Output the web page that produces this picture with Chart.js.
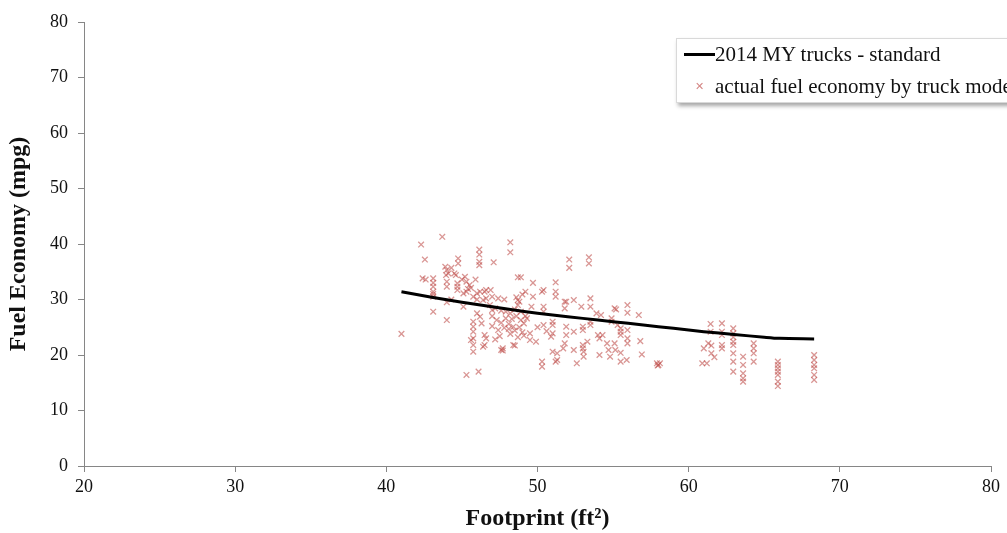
<!DOCTYPE html>
<html lang="en">
<head>
    <meta charset="UTF-8">
    <title>Fuel Economy vs Footprint</title>
    <style>
        body {
            margin: 0;
            padding: 0;
            background: #fff;
            font-family: 'Liberation Serif', 'DejaVu Serif', serif;
        }

        #wrap {
            position: relative;
            width: 1007px;
            height: 533px;
            overflow: hidden;
        }

        /* Legend box, clipped at the right edge like the original */
        #legend {
            position: absolute;
            left: 676px;
            top: 38px;
            width: 360px;
            height: 63px;
            background: #fff;
            border: 1px solid #d9d9d9;
            box-shadow: 2px 3px 4px rgba(0, 0, 0, 0.35);
            font-size: 21px;
            color: #111;
            white-space: nowrap;
        }

        #legend .row {
            position: absolute;
            left: 0;
            height: 28px;
            line-height: 28px;
        }

        #legend .swatch-line {
            position: absolute;
            left: 7px;
            top: 13px;
            width: 31px;
            height: 3px;
            background: #000;
        }

        #legend .swatch-x {
            position: absolute;
            left: 18px;
            top: 0;
            font-size: 11px;
            color: rgba(192, 80, 77, 0.7);
        }

        #legend .label {
            position: absolute;
            left: 38px;
        }
    </style>
</head>
<body>
    <div id="wrap">
        <canvas id="chart" width="1007" height="533"></canvas>
        <div id="legend">
            <div class="row" style="top:1px"><span class="swatch-line"></span><span class="label">2014 MY trucks - standard</span></div>
            <div class="row" style="top:33px"><span class="swatch-x">&#x2715;</span><span class="label">actual fuel economy by truck model</span></div>
        </div>
    </div>

    <script src="https://cdn.jsdelivr.net/npm/chart.js"></script>
    <script>
        // axis ranges / ticks
        const xTicks = [20, 30, 40, 50, 60, 70, 80];
        const yTicks = [0, 10, 20, 30, 40, 50, 60, 70, 80];

        // 2014 MY truck standard curve (footprint ft2, mpg)
        const standardFootprint = [41, 43, 45, 47, 49, 51, 53, 55, 57, 59, 61, 63, 65, 66, 68.3];
        const standardMpg = [31.4, 30.4, 29.5, 28.7, 27.9, 27.2, 26.6, 26.0, 25.4, 24.8, 24.2, 23.7, 23.2, 23.0, 22.9];

        // actual fuel economy by truck model: [footprint, mpg]
        const truckModels = [
            [41.0, 23.8],
            [42.3, 39.9], [42.55, 37.2], [42.4, 33.8], [42.6, 33.6],
            [43.1, 33.8], [43.1, 33.0], [43.1, 32.3], [43.1, 31.4], [43.1, 30.5], [43.1, 27.8], [43.1, 31.0],
            [43.7, 41.3],
            [43.9, 35.9], [44.0, 35.3], [44.1, 34.7], [43.95, 34.4], [44.0, 33.2], [44.0, 32.3], [44.0, 29.5], [44.0, 26.3],
            [44.5, 34.7], [44.6, 34.4], [44.3, 35.7], [44.75, 37.4], [44.75, 36.5], [44.7, 32.9], [44.7, 32.3], [44.7, 31.7], [44.3, 30.0],
            [45.2, 34.1], [45.3, 33.2], [45.5, 32.6], [45.6, 32.1], [45.4, 31.9], [45.1, 31.1], [45.3, 31.4], [45.1, 28.7], [45.3, 16.4], [45.0, 33.6],
            [46.15, 39.0], [46.15, 38.1], [46.15, 36.8], [46.15, 36.2], [45.9, 33.6], [46.0, 31.1], [46.2, 31.4], [46.5, 31.4], [46.9, 31.7],
            [45.75, 30.5], [46.0, 30.0], [46.4, 29.9], [46.6, 30.2], [46.0, 27.5], [46.2, 26.9], [45.75, 26.0], [46.3, 25.7], [45.75, 25.1],
            [45.75, 24.2], [46.5, 23.6], [46.6, 23.0], [45.75, 23.0], [45.75, 21.8], [45.75, 20.6], [46.4, 21.5], [46.85, 29.0], [47.0, 28.1],
            [46.1, 17.0], [45.6, 22.7], [46.5, 21.8], [47.1, 36.7], [46.6, 31.7], [47.0, 30.5],
            [47.4, 30.2], [47.8, 30.0], [47.2, 28.4], [47.6, 28.0], [47.9, 27.8], [48.2, 27.5], [48.5, 28.2], [48.2, 40.3], [48.2, 38.5],
            [48.7, 34.0], [48.9, 34.0], [49.7, 33.0], [49.2, 31.4], [48.6, 30.4], [48.8, 29.6], [49.0, 30.9], [49.7, 30.5], [49.6, 28.7],
            [48.7, 29.0], [48.7, 29.9],
            [47.0, 27.0], [47.3, 26.3], [47.6, 25.8], [47.0, 25.2], [47.4, 24.5], [47.8, 24.9], [48.1, 25.6], [48.3, 26.5], [48.6, 27.0],
            [48.9, 26.3], [49.1, 25.7], [48.8, 25.0], [48.5, 24.4], [48.2, 23.8], [48.7, 23.2], [49.0, 24.1], [49.2, 27.0], [48.9, 27.8],
            [48.4, 25.1], [47.9, 26.6], [48.1, 24.7], [49.3, 26.6], [49.1, 23.5], [47.5, 23.4], [47.2, 22.8],
            [49.5, 23.9], [49.5, 22.7], [49.9, 22.4], [48.4, 21.8], [47.7, 21.2], [47.7, 20.8], [48.5, 21.7], [47.6, 20.9],
            [50.3, 18.8], [50.3, 17.9], [50.4, 31.7], [50.3, 31.4], [50.4, 28.7], [50.4, 27.8], [50.4, 25.4],
            [51.2, 33.1], [51.2, 31.4], [51.2, 30.5], [51.0, 26.0], [51.0, 25.4], [51.0, 23.9], [50.9, 23.3], [51.0, 20.6], [51.3, 20.3],
            [51.3, 19.1], [51.2, 18.8], [51.8, 29.6], [51.9, 29.6], [51.8, 28.4], [52.4, 29.9], [51.9, 25.1], [51.9, 23.6], [51.8, 22.1],
            [51.7, 21.2], [52.4, 24.2], [52.4, 20.9], [52.6, 18.5], [52.1, 37.2], [52.1, 35.7], [50.0, 25.0], [50.6, 24.3],
            [53.4, 37.6], [53.4, 36.5], [52.9, 28.7], [53.5, 30.2], [53.5, 28.7], [53.9, 27.5], [54.2, 27.2], [55.1, 28.4], [54.9, 26.6],
            [54.9, 26.0], [55.3, 25.4], [53.0, 25.1], [53.0, 24.5], [53.5, 25.4], [53.5, 26.0], [54.0, 23.6], [54.1, 23.0], [53.0, 21.8],
            [53.0, 21.2], [53.05, 20.6], [53.05, 19.7], [54.6, 22.1], [54.7, 20.9], [54.8, 19.7], [54.1, 20.0], [54.3, 23.6], [55.1, 22.1],
            [55.15, 20.9], [53.3, 22.4],
            [55.2, 28.2], [55.95, 29.0], [55.95, 27.6], [56.7, 27.2], [55.5, 24.8], [55.5, 24.2], [55.5, 23.6], [55.95, 24.5], [55.95, 23.0],
            [55.95, 22.1], [56.8, 22.5], [55.5, 20.4], [55.5, 18.8], [55.9, 19.1], [56.9, 20.1], [57.9, 18.5], [58.0, 18.2], [58.1, 18.5], [57.95, 18.1],
            [61.45, 25.6], [61.45, 24.2], [62.2, 25.7], [62.2, 24.2], [62.2, 23.6], [62.95, 24.8], [62.95, 23.9], [62.95, 23.2], [62.95, 22.4],
            [62.95, 21.8], [62.95, 20.3], [62.95, 18.8], [62.95, 17.0], [62.2, 21.8], [62.2, 21.2], [61.3, 22.1], [61.5, 21.7], [61.0, 21.2],
            [61.5, 20.3], [61.7, 19.6], [60.9, 18.5], [61.2, 18.5],
            [63.6, 19.7], [63.6, 18.2], [63.6, 16.7], [63.6, 15.8], [63.6, 15.2], [64.3, 22.1], [64.3, 21.2], [64.3, 20.3], [64.3, 18.8],
            [65.9, 18.8], [65.9, 18.2], [65.9, 17.6], [65.9, 17.0], [65.9, 16.4], [65.9, 15.2], [65.9, 14.4],
            [68.3, 20.0], [68.3, 19.1], [68.3, 18.2], [68.3, 17.6], [68.3, 16.4], [68.3, 15.5]
        ];

        const axisGray = '#868686';
        const serif = "'Liberation Serif', 'DejaVu Serif', serif";

        const ctx = document.getElementById('chart').getContext('2d');
        new Chart(ctx, {
            type: 'scatter',
            data: {
                datasets: [
                    {
                        label: '2014 MY trucks - standard',
                        data: standardFootprint.map((x, i) => ({ x: x, y: standardMpg[i] })),
                        showLine: true,
                        borderColor: '#000',
                        borderWidth: 3,
                        pointRadius: 0,
                        tension: 0.3,
                        fill: false
                    },
                    {
                        label: 'actual fuel economy by truck model',
                        data: truckModels.map(p => ({ x: p[0], y: p[1] })),
                        pointStyle: 'crossRot',
                        pointRadius: 4,
                        borderWidth: 1.3,
                        borderColor: 'rgba(192, 80, 77, 0.6)',
                        backgroundColor: 'rgba(192, 80, 77, 0.6)'
                    }
                ]
            },
            options: {
                responsive: false,
                animation: false,
                layout: { padding: { top: 22, right: 16, left: 0, bottom: 0 } },
                plugins: {
                    legend: { display: false },
                    tooltip: { enabled: false }
                },
                scales: {
                    x: {
                        type: 'linear',
                        min: xTicks[0],
                        max: xTicks[xTicks.length - 1],
                        afterBuildTicks: s => { s.ticks = xTicks.map(v => ({ value: v })); },
                        afterFit: s => { s.height = 67; },
                        border: { color: axisGray, width: 1 },
                        grid: { drawOnChartArea: false, color: axisGray, tickLength: 6 },
                        ticks: { color: '#111', padding: 4, font: { family: serif, size: 18 } },
                        title: {
                            display: true,
                            text: 'Footprint (ft\u00b2)',
                            color: '#111',
                            padding: { top: 0, bottom: 0 },
                            font: { family: serif, size: 24, weight: 'bold' }
                        }
                    },
                    y: {
                        min: yTicks[0],
                        max: yTicks[yTicks.length - 1],
                        afterBuildTicks: s => { s.ticks = yTicks.map(v => ({ value: v })); },
                        afterFit: s => { s.width = 84; },
                        border: { color: axisGray, width: 1 },
                        grid: { drawOnChartArea: false, color: axisGray, tickLength: 6 },
                        ticks: { color: '#111', padding: 10, font: { family: serif, size: 18 } },
                        title: {
                            display: true,
                            text: 'Fuel Economy (mpg)',
                            color: '#111',
                            padding: { top: 4, bottom: 8 },
                            font: { family: serif, size: 24, weight: 'bold' }
                        }
                    }
                }
            }
        });
    </script>
</body>
</html>
